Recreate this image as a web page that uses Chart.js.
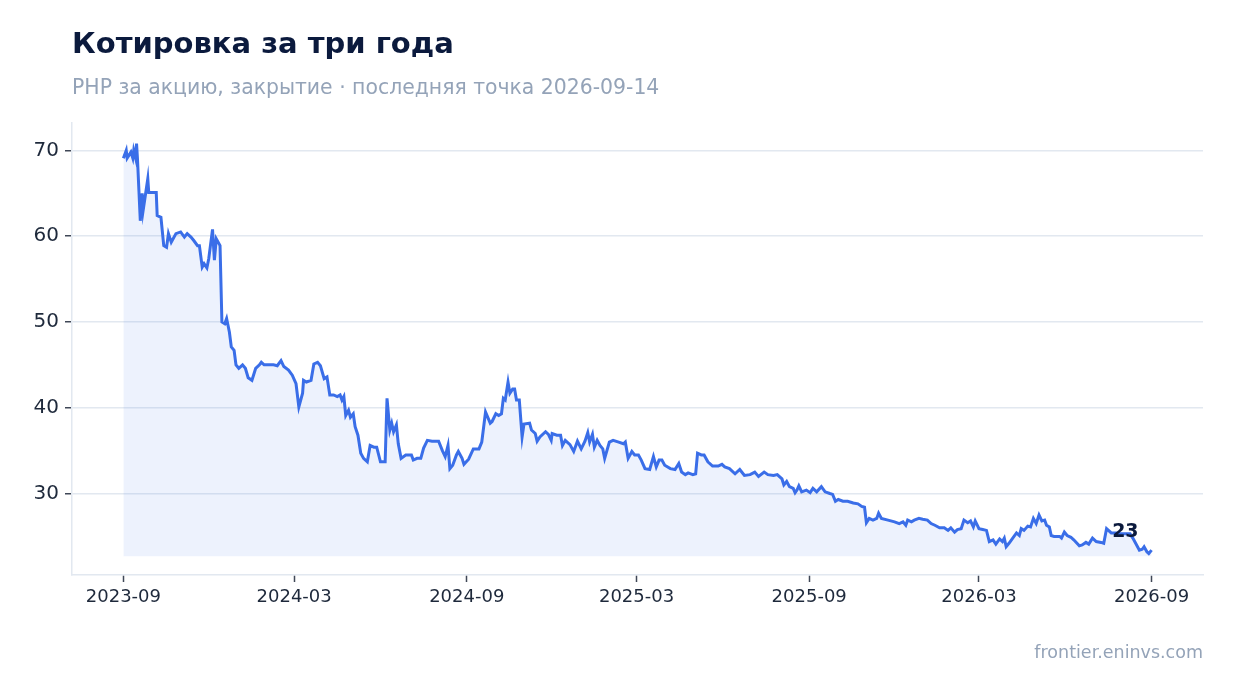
<!DOCTYPE html>
<html>
<head>
<meta charset="utf-8">
<script src="https://cdn.jsdelivr.net/npm/chart.js@4.4.1/dist/chart.umd.min.js"></script>
<style>
  html, body { margin: 0; padding: 0; background: #fff; }
  #wrap { position: relative; width: 1234px; height: 693px; }
</style>
</head>
<body>
<div id="wrap"><canvas id="quote_chart"></canvas></div>
<script>
const TITLE = "Котировка за три года";
const SUBTITLE = "РНР за акцию, закрытие · последняя точка 2026-09-14";
const FOOTER = "frontier.eninvs.com";

// даты закрытия (отсчёт с 2023-09-14)
const dates = [
  "2023-09-14","2023-09-17","2023-09-18","2023-09-22","2023-09-24","2023-09-25","2023-09-27","2023-09-28","2023-09-29",
  "2023-10-02","2023-10-04","2023-10-05","2023-10-10","2023-10-11","2023-10-19","2023-10-20","2023-10-24","2023-10-27","2023-10-30",
  "2023-11-01","2023-11-04","2023-11-09","2023-11-14","2023-11-18","2023-11-21","2023-11-25","2023-11-28",
  "2023-12-02","2023-12-04","2023-12-07","2023-12-09","2023-12-12","2023-12-14","2023-12-18","2023-12-20","2023-12-22","2023-12-26","2023-12-28","2023-12-31",
  "2024-01-02","2024-01-05","2024-01-07","2024-01-10","2024-01-12","2024-01-15","2024-01-19","2024-01-22","2024-01-25","2024-01-29",
  "2024-02-02","2024-02-06","2024-02-08","2024-02-11","2024-02-16","2024-02-21","2024-02-25","2024-02-29",
  "2024-03-03","2024-03-08","2024-03-12","2024-03-16","2024-03-19","2024-03-23","2024-03-24","2024-03-27",
  "2024-04-01","2024-04-04","2024-04-08","2024-04-11","2024-04-15","2024-04-18","2024-04-21","2024-04-25","2024-04-29",
  "2024-05-02","2024-05-04","2024-05-06","2024-05-08","2024-05-11","2024-05-13","2024-05-16","2024-05-18","2024-05-21","2024-05-24","2024-05-27","2024-05-31",
  "2024-06-03","2024-06-07","2024-06-10","2024-06-14","2024-06-19","2024-06-21","2024-06-24","2024-06-26","2024-06-28",
  "2024-07-01","2024-07-03","2024-07-06","2024-07-11","2024-07-17","2024-07-19","2024-07-23","2024-07-27","2024-07-30",
  "2024-08-03","2024-08-08","2024-08-15","2024-08-19","2024-08-22","2024-08-25","2024-08-27","2024-08-30",
  "2024-09-03","2024-09-05","2024-09-09","2024-09-11","2024-09-16","2024-09-21","2024-09-27","2024-09-30",
  "2024-10-04","2024-10-09","2024-10-11","2024-10-15","2024-10-18","2024-10-21","2024-10-23","2024-10-25","2024-10-28","2024-10-30",
  "2024-11-02","2024-11-04","2024-11-06","2024-11-09","2024-11-12","2024-11-14","2024-11-20","2024-11-22","2024-11-26","2024-11-28",
  "2024-12-01","2024-12-07","2024-12-10","2024-12-13","2024-12-14","2024-12-19","2024-12-23","2024-12-25","2024-12-28",
  "2025-01-02","2025-01-06","2025-01-10","2025-01-14","2025-01-18","2025-01-21","2025-01-23","2025-01-26","2025-01-28","2025-01-31",
  "2025-02-03","2025-02-06","2025-02-08","2025-02-13","2025-02-17","2025-02-23","2025-02-28",
  "2025-03-02","2025-03-05","2025-03-09","2025-03-12","2025-03-16","2025-03-19","2025-03-23","2025-03-28",
  "2025-04-01","2025-04-04","2025-04-07","2025-04-10","2025-04-13","2025-04-19","2025-04-24","2025-04-28",
  "2025-05-01","2025-05-05","2025-05-08","2025-05-13","2025-05-16","2025-05-18","2025-05-22","2025-05-25","2025-05-29",
  "2025-06-03","2025-06-09","2025-06-13","2025-06-16","2025-06-21","2025-06-27",
  "2025-07-02","2025-07-07","2025-07-13","2025-07-18","2025-07-22","2025-07-28",
  "2025-08-01","2025-08-07","2025-08-11","2025-08-16","2025-08-18","2025-08-21","2025-08-24","2025-08-28","2025-08-30",
  "2025-09-01","2025-09-03","2025-09-06","2025-09-11","2025-09-15","2025-09-18","2025-09-22","2025-09-27",
  "2025-10-01","2025-10-06","2025-10-09","2025-10-12","2025-10-15","2025-10-20","2025-10-25","2025-10-31",
  "2025-11-05","2025-11-09","2025-11-12","2025-11-14","2025-11-17","2025-11-21","2025-11-25","2025-11-27","2025-11-30",
  "2025-12-07","2025-12-14","2025-12-19","2025-12-23","2025-12-26","2025-12-28",
  "2026-01-01","2026-01-04","2026-01-09","2026-01-13","2026-01-18","2026-01-22","2026-01-26","2026-01-31",
  "2026-02-05","2026-02-09","2026-02-12","2026-02-16","2026-02-19","2026-02-23","2026-02-26",
  "2026-03-02","2026-03-05","2026-03-08","2026-03-10","2026-03-14","2026-03-18","2026-03-22","2026-03-25","2026-03-29",
  "2026-04-01","2026-04-05","2026-04-08","2026-04-10","2026-04-12","2026-04-15","2026-04-19","2026-04-23","2026-04-26","2026-04-28",
  "2026-05-01","2026-05-05","2026-05-08","2026-05-11","2026-05-14","2026-05-17","2026-05-20","2026-05-23","2026-05-25","2026-05-28","2026-05-30",
  "2026-06-02","2026-06-08","2026-06-10","2026-06-13","2026-06-16","2026-06-20","2026-06-23","2026-06-29",
  "2026-07-02","2026-07-06","2026-07-09","2026-07-13","2026-07-17","2026-07-22","2026-07-25","2026-07-28",
  "2026-08-02","2026-08-07","2026-08-12","2026-08-18","2026-08-22","2026-08-25","2026-08-28",
  "2026-09-01","2026-09-04","2026-09-06","2026-09-09","2026-09-11","2026-09-14"
];

// цена закрытия, руб.
const prices = [
  69.1,70.0,69.1,69.8,69.1,70.0,69.1,70.8,69.0,
  61.8,65.0,63.0,66.7,65.1,65.1,62.4,62.2,58.9,58.7,
  60.3,59.3,60.3,60.5,59.9,60.3,59.9,59.5,
  58.9,58.9,56.4,56.8,56.3,57.4,60.8,57.2,59.7,58.9,50.0,49.8,
  50.4,48.8,47.1,46.7,45.0,44.6,45.0,44.6,43.5,43.2,
  44.6,45.0,45.3,45.0,45.0,45.0,44.9,45.5,
  44.8,44.4,43.8,42.8,40.1,41.7,43.2,43.0,
  43.2,45.1,45.3,44.9,43.4,43.6,41.5,41.5,41.3,
  41.5,40.9,41.3,39.1,39.7,38.9,39.3,37.8,36.8,34.7,34.1,33.7,
  35.6,35.4,35.4,33.7,33.7,41.1,37.4,38.2,37.2,
  38.0,35.8,34.1,34.5,34.5,33.9,34.1,34.1,35.3,
  36.2,36.1,36.1,35.0,34.3,35.6,32.9,33.3,
  34.5,34.9,34.1,33.4,34.0,35.2,35.2,36.0,
  39.5,38.2,38.4,39.3,39.1,39.3,41.1,40.9,43.0,41.7,
  42.2,42.2,40.9,40.9,36.6,38.1,38.2,37.4,37.0,36.1,
  36.6,37.2,36.9,36.2,37.0,36.8,36.8,35.6,36.2,
  35.7,34.9,36.1,35.2,36.1,37.1,36.0,36.9,35.4,36.2,
  35.6,35.2,34.1,36.0,36.2,36.0,35.8,
  36.0,34.1,34.9,34.5,34.5,33.9,32.9,32.8,
  34.3,33.1,33.9,33.9,33.3,32.9,32.8,33.5,
  32.5,32.2,32.4,32.2,32.3,34.7,34.5,34.5,33.7,
  33.2,33.2,33.4,33.1,32.9,32.3,
  32.8,32.1,32.2,32.5,32.0,32.5,
  32.2,32.1,32.2,31.7,31.0,31.4,30.8,30.6,30.1,
  30.4,30.9,30.2,30.4,30.1,30.6,30.2,30.8,
  30.2,30.0,29.9,29.1,29.3,29.1,29.1,28.9,
  28.8,28.5,28.4,26.6,27.1,26.9,27.1,27.7,27.1,
  26.9,26.7,26.5,26.7,26.3,26.9,
  26.7,26.9,27.1,27.0,26.9,26.5,26.3,26.0,
  26.0,25.7,26.0,25.5,25.8,25.9,26.9,
  26.6,26.8,26.1,26.8,25.9,25.8,25.7,24.4,24.6,
  24.1,24.7,24.4,24.8,23.8,24.2,24.8,25.4,25.1,25.9,
  25.7,26.2,26.1,27.1,26.5,27.5,26.8,26.9,26.3,26.1,25.1,
  25.0,25.0,24.8,25.5,25.1,24.9,24.6,23.9,
  24.0,24.3,24.1,24.8,24.4,24.3,24.2,25.9,
  25.4,25.4,25.3,25.3,25.3,24.8,24.2,
  23.4,23.5,23.8,23.2,23.0,23.4
];

const tickDates = ["2023-09-14","2024-03-14","2024-09-14","2025-03-14","2025-09-14","2026-03-14","2026-09-14"];
const tickLabels = ["2023-09","2024-03","2024-09","2025-03","2025-09","2026-03","2026-09"];
const yTicks = [30, 40, 50, 60, 70];

const toMs = (s) => Date.parse(s + "T00:00:00Z");

const firstX = toMs(dates[0]);
const lastX = toMs(dates[dates.length - 1]);
const padX = (lastX - firstX) * 0.05;

const FONT = '"DejaVu Sans", "Noto Sans", sans-serif';

// заголовки и подпись последнего значения
const textPlugin = {
  id: "texts",
  afterDraw(chart) {
    const ctx = chart.ctx;
    ctx.save();
    ctx.textBaseline = "alphabetic";
    ctx.textAlign = "left";
    ctx.fillStyle = "#0b1a3d";
    ctx.font = "bold 29px " + FONT;
    ctx.fillText(TITLE, 72, 53);

    ctx.fillStyle = "#94a3b8";
    ctx.font = "20.4px " + FONT;
    ctx.fillText(SUBTITLE, 72, 94);

    ctx.textAlign = "right";
    ctx.font = "17.5px " + FONT;
    ctx.fillText(FOOTER, 1203, 658);

    const meta = chart.getDatasetMeta(0);
    const pt = meta.data[meta.data.length - 1];
    ctx.fillStyle = "#0b1a3d";
    ctx.font = "bold 19px " + FONT;
    ctx.fillText(String(Math.round(prices[prices.length - 1])), pt.x - 13, pt.y - 13);
    ctx.restore();
  },
};

const ctx = document.getElementById("quote_chart").getContext("2d");
const chart = new Chart(ctx, {
  type: "line",
  data: {
    datasets: [
      {
        data: dates.map((d, i) => ({ x: toMs(d), y: prices[i] })),
        borderColor: "#3a6ee8",
        borderWidth: 3,
        backgroundColor: "rgba(59, 110, 232, 0.09)",
        fill: { value: 22.7 },
        tension: 0,
        pointRadius: 0,
      },
    ],
  },
  options: {
    animation: false,
    responsive: true,
    maintainAspectRatio: false,
    layout: { padding: { top: 123, right: 31, bottom: 0, left: 0 } },
    plugins: {
      legend: { display: false },
      tooltip: { enabled: false },
    },
    scales: {
      x: {
        type: "linear",
        min: firstX - padX,
        max: lastX + padX,
        afterFit: (s) => { s.height = 118; },
        afterBuildTicks: (s) => { s.ticks = tickDates.map((d) => ({ value: toMs(d) })); },
        grid: {
          display: true,
          drawOnChartArea: false,
          drawTicks: true,
          tickLength: 7,
          tickWidth: 1.5,
          tickColor: "#3f4756",
        },
        border: { display: true, color: "#e2e8f0", width: 1.5 },
        ticks: {
          color: "#1e293b",
          font: { family: FONT, size: 18 },
          padding: 5,
          maxRotation: 0,
          autoSkip: false,
          callback: (v, i) => tickLabels[i],
        },
      },
      y: {
        min: 20.5,
        max: 73.2,
        afterFit: (s) => { s.width = 72; },
        afterBuildTicks: (s) => { s.ticks = yTicks.map((v) => ({ value: v })); },
        grid: {
          color: "#e2e8f0",
          lineWidth: 1.5,
          tickLength: 7,
          tickWidth: 1.5,
          tickColor: "#3f4756",
        },
        border: { display: true, color: "#e2e8f0", width: 1.5 },
        ticks: {
          color: "#1e293b",
          font: { family: FONT, size: 20 },
          padding: 6,
        },
      },
    },
  },
  plugins: [textPlugin],
});
</script>
</body>
</html>
